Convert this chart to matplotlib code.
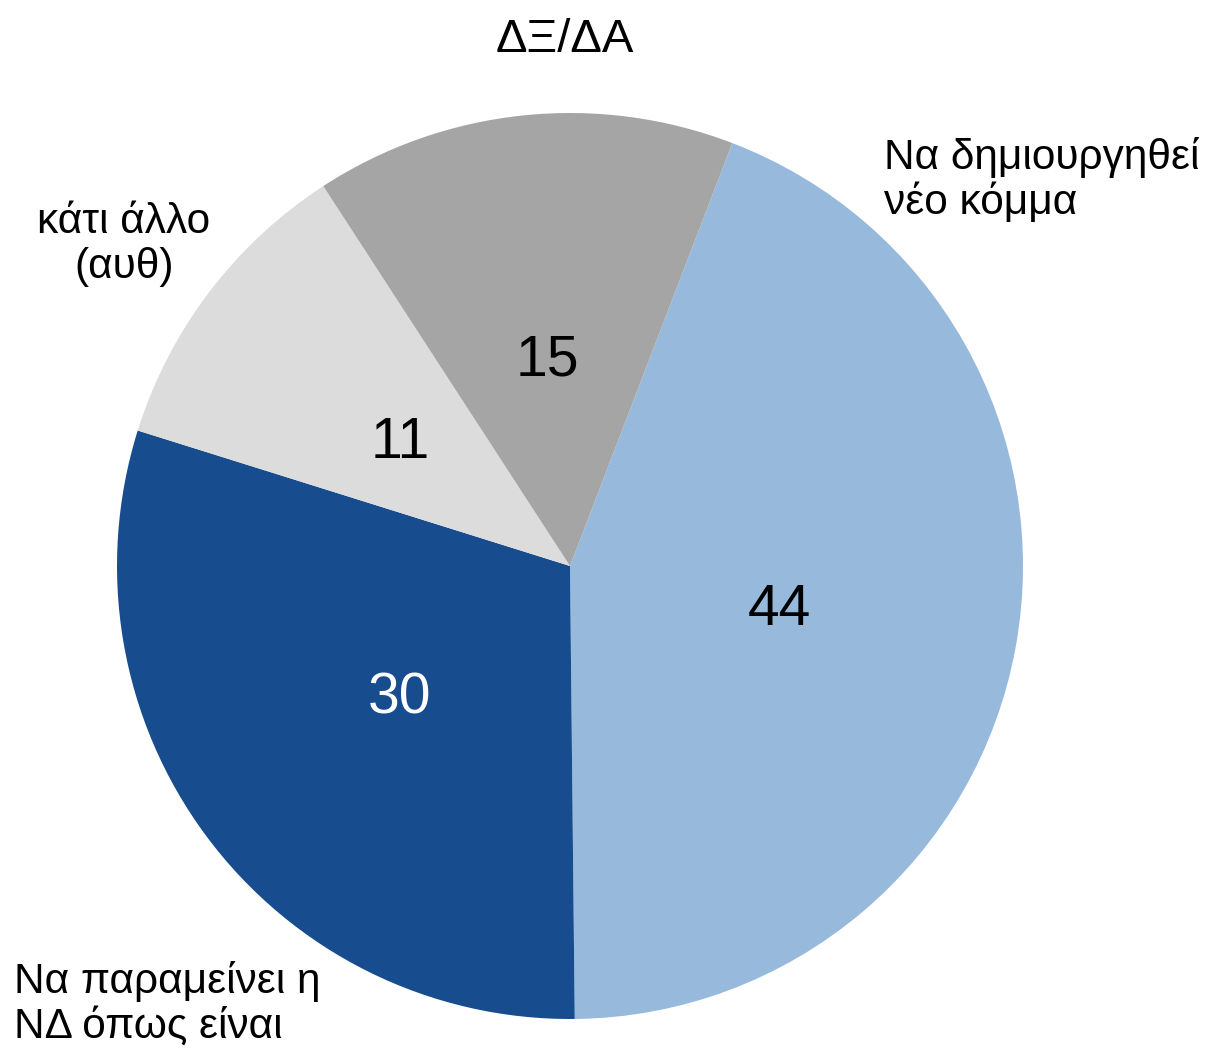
import matplotlib
matplotlib.use("Agg")
import matplotlib.pyplot as plt

plt.rcParams['font.family'] = ['Liberation Sans', 'DejaVu Sans']

categories = ["Να δημιουργηθεί\nνέο κόμμα", "Να παραμείνει η\nΝΔ όπως είναι", "κάτι άλλο\n(αυθ)", "ΔΞ/ΔΑ"]
values = [44, 30, 11, 15]
colors = ["#97B9DB", "#174D8E", "#DCDCDC", "#A5A5A5"]
value_colors = ["#000000", "#FFFFFF", "#000000", "#000000"]

label_pos = [(0.693, 0.852, 'left', 30.5), (-1.227, -0.967, 'left', 30.5),
             (-0.985, 0.709, 'center', 30.5), (-0.011, 1.161, 'center', 34)]

fig = plt.figure(figsize=(12.06, 10.48), dpi=100)
ax = fig.add_axes([117/1206, 29/1048, 906/1206, 906/1048])

wedges, texts, autotexts = ax.pie(
    values, colors=colors, startangle=69, counterclock=False, radius=1,
    autopct=lambda p: f"{p:.0f}", pctdistance=0.47,
    wedgeprops=dict(linewidth=0),
    textprops=dict(fontsize=41))
for t, c in zip(autotexts, value_colors):
    t.set_color(c)
    t.set_verticalalignment('center_baseline')

for cat, (x, y, ha, fs) in zip(categories, label_pos):
    ax.text(x, y, cat, ha=ha, va='center', fontsize=fs,
            color='black', linespacing=1.15)

ax.set_xlim(-1, 1)
ax.set_ylim(-1, 1)
ax.set_aspect('equal')
ax.axis('off')

fig.savefig("out.png", dpi=100)
